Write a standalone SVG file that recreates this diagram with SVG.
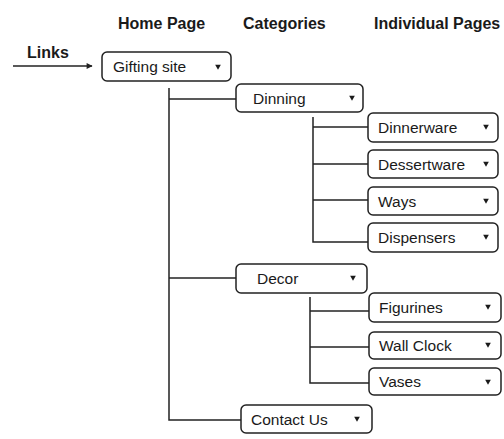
<svg xmlns="http://www.w3.org/2000/svg" width="504" height="439" viewBox="0 0 504 439">
  <style>
    .hdr { font-family: "Liberation Sans", Arial, sans-serif; font-weight: bold; font-size: 16px; fill: #1a1a1a; }
    .lbl { font-family: "Liberation Sans", Arial, sans-serif; font-size: 15.5px; fill: #1a1a1a; }
    .box { fill: #ffffff; stroke: #222222; stroke-width: 1.5; }
    .tri { fill: #1a1a1a; }
    .conn { fill: none; stroke: #222222; stroke-width: 1.5; }
  </style>
  <defs>
    <marker id="arrow" viewBox="0 0 10 10" refX="9" refY="5" markerWidth="10" markerHeight="6" markerUnits="userSpaceOnUse" orient="auto">
      <path d="M0,0 L10,5 L0,10 Z" fill="#222222"/>
    </marker>
    <path id="drop" d="M-2.8,-2.2 L2.8,-2.2 L0,2.8 Z"/>
  </defs>
  <rect width="504" height="439" fill="#ffffff"/>

  <!-- column headings -->
  <g id="headings">
    <text class="hdr" x="118" y="29">Home Page</text>
    <text class="hdr" x="243" y="29">Categories</text>
    <text class="hdr" x="374" y="29">Individual Pages</text>
  </g>

  <!-- connectors -->
  <g id="connectors">
    <line class="conn" x1="13" y1="66" x2="92" y2="66" marker-end="url(#arrow)"/>
    <!-- home page trunk -->
    <path class="conn" d="M169,88 V420 H241"/>
    <path class="conn" d="M169,99 H236"/>
    <path class="conn" d="M169,278 H236"/>
    <!-- Dinning branch -->
    <path class="conn" d="M313,117 V242 H368"/>
    <path class="conn" d="M313,127 H368"/>
    <path class="conn" d="M313,164 H368"/>
    <path class="conn" d="M313,200 H368"/>
    <!-- Decor branch -->
    <path class="conn" d="M310,297 V383 H369"/>
    <path class="conn" d="M310,311 H369"/>
    <path class="conn" d="M310,347 H369"/>
  </g>

  <g id="links">
    <text class="hdr" x="27" y="58">Links</text>
  </g>

  <g id="gifting-site">
    <rect class="box" x="102" y="52" width="129" height="29" rx="5"/>
    <text class="lbl" x="113" y="72">Gifting site</text>
    <use href="#drop" class="tri" x="218" y="67"/>
  </g>

  <g id="dinning">
    <rect class="box" x="236" y="84" width="127" height="28" rx="5"/>
    <text class="lbl" x="253" y="104">Dinning</text>
    <use href="#drop" class="tri" x="352" y="98"/>
  </g>

  <g id="dinnerware">
    <rect class="box" x="368" y="113" width="130" height="29" rx="5"/>
    <text class="lbl" x="378" y="133">Dinnerware</text>
    <use href="#drop" class="tri" x="486" y="127"/>
  </g>

  <g id="dessertware">
    <rect class="box" x="368" y="150" width="130" height="28" rx="5"/>
    <text class="lbl" x="378" y="170">Dessertware</text>
    <use href="#drop" class="tri" x="486" y="164"/>
  </g>

  <g id="ways">
    <rect class="box" x="368" y="187" width="130" height="28" rx="5"/>
    <text class="lbl" x="378" y="207">Ways</text>
    <use href="#drop" class="tri" x="486" y="201"/>
  </g>

  <g id="dispensers">
    <rect class="box" x="368" y="223" width="130" height="29" rx="5"/>
    <text class="lbl" x="378" y="243">Dispensers</text>
    <use href="#drop" class="tri" x="486" y="237"/>
  </g>

  <g id="decor">
    <rect class="box" x="236" y="264" width="131" height="29" rx="5"/>
    <text class="lbl" x="257" y="284">Decor</text>
    <use href="#drop" class="tri" x="353" y="278"/>
  </g>

  <g id="figurines">
    <rect class="box" x="369" y="293" width="132" height="29" rx="5"/>
    <text class="lbl" x="379" y="313">Figurines</text>
    <use href="#drop" class="tri" x="488" y="307"/>
  </g>

  <g id="wall-clock">
    <rect class="box" x="369" y="332" width="132" height="27" rx="5"/>
    <text class="lbl" x="379" y="351">Wall Clock</text>
    <use href="#drop" class="tri" x="488" y="345"/>
  </g>

  <g id="vases">
    <rect class="box" x="369" y="368" width="132" height="27" rx="5"/>
    <text class="lbl" x="379" y="387">Vases</text>
    <use href="#drop" class="tri" x="488" y="382"/>
  </g>

  <g id="contact-us">
    <rect class="box" x="241" y="405" width="131" height="28" rx="5"/>
    <text class="lbl" x="251" y="425">Contact Us</text>
    <use href="#drop" class="tri" x="357" y="419"/>
  </g>
</svg>
